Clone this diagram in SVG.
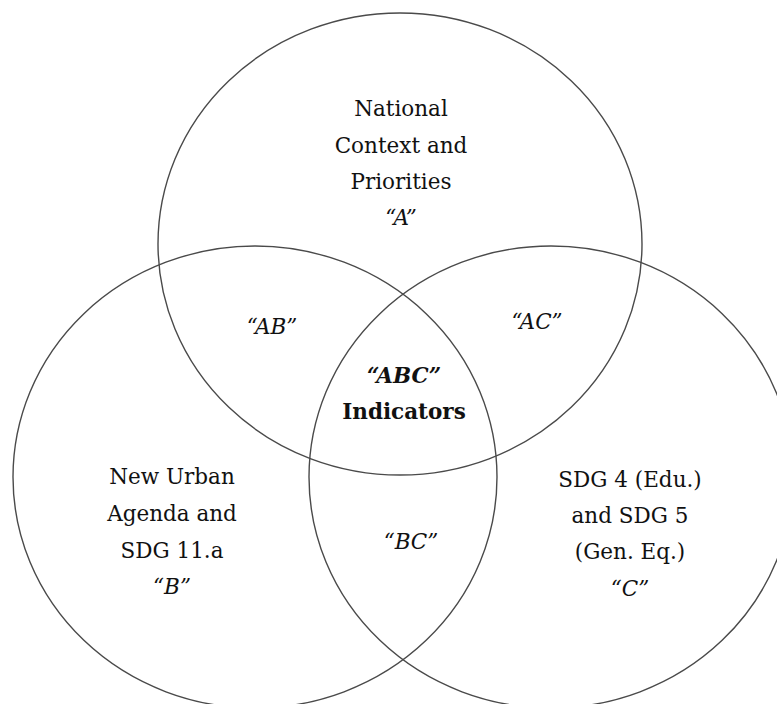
<svg xmlns="http://www.w3.org/2000/svg" width="777" height="704" viewBox="0 0 777 704">
<style>
.set{fill:none;stroke:#4a4a4a;stroke-width:1.4}
text{font-family:"DejaVu Serif","Liberation Serif",serif;font-size:21.5px;fill:#111;text-anchor:middle}
.i{font-style:italic}
.b{font-weight:bold}
</style>
<rect width="777" height="704" fill="#fff"/>
<g id="setA">
<ellipse class="set" cx="400" cy="244" rx="242" ry="231"/>
<text x="401" y="116">National</text>
<text x="401" y="153">Context and</text>
<text x="401" y="189">Priorities</text>
<text class="i" x="401" y="225">“A”</text>
</g>
<g id="setB">
<ellipse class="set" cx="255" cy="477" rx="242" ry="231"/>
<text x="172" y="484">New Urban</text>
<text x="172" y="521">Agenda and</text>
<text x="172" y="558">SDG 11.a</text>
<text class="i" x="172" y="594">“B”</text>
</g>
<g id="setC">
<ellipse class="set" cx="551" cy="477" rx="242" ry="231"/>
<text x="630" y="487">SDG 4 (Edu.)</text>
<text x="630" y="523">and SDG 5</text>
<text x="630" y="559">(Gen. Eq.)</text>
<text class="i" x="630" y="596">“C”</text>
</g>
<g id="regionAB"><text class="i" x="272" y="334">“AB”</text></g>
<g id="regionAC"><text class="i" x="537" y="329">“AC”</text></g>
<g id="regionBC"><text class="i" x="411" y="549">“BC”</text></g>
<g id="regionABC">
<text class="i b" x="404" y="383">“ABC”</text>
<text class="b" x="404" y="419">Indicators</text>
</g>
<g id="connectors"></g>
</svg>
